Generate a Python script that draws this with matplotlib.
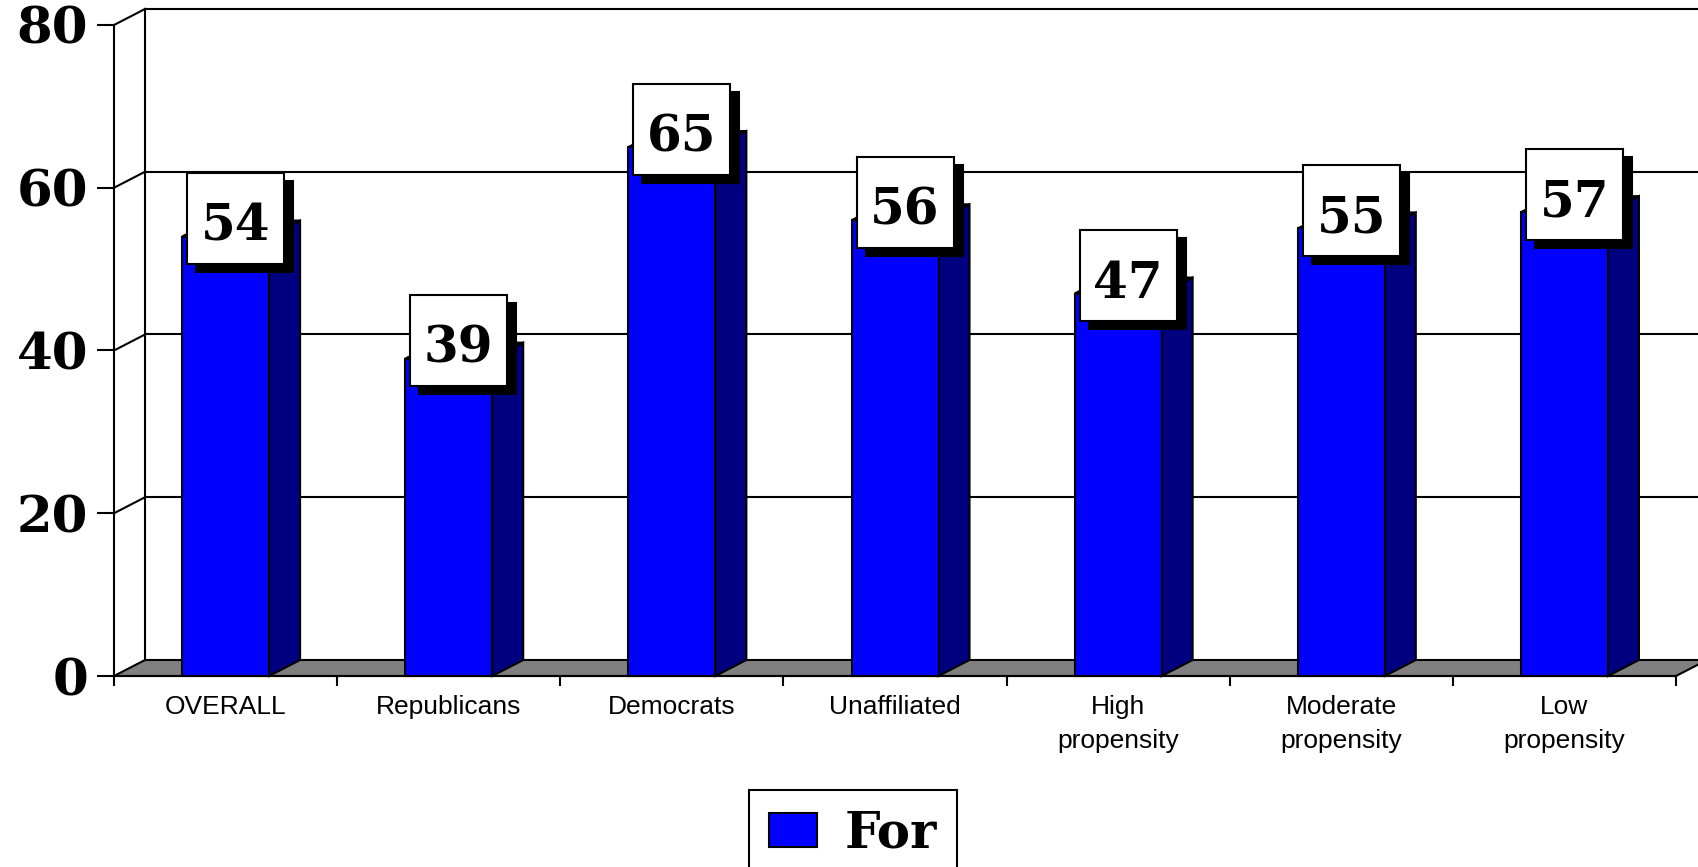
import matplotlib
matplotlib.use("Agg")
import matplotlib.pyplot as plt
from matplotlib.patches import Polygon, Rectangle, Patch
from matplotlib.transforms import ScaledTranslation

categories = ["OVERALL", "Republicans", "Democrats", "Unaffiliated",
              "High\npropensity", "Moderate\npropensity", "Low\npropensity"]
values = [54, 39, 65, 56, 47, 55, 57]
yticks = [0, 20, 40, 60, 80]
series_name = "For"

FRONT, SIDE, TOP, FLOOR = "#0000FF", "#000080", "#0000C8", "#808080"
SERIF = "DejaVu Serif"
SANS = "Liberation Sans"
BIG = 36

W, H, DPI = 16.98, 8.67, 100
fig = plt.figure(figsize=(W, H), dpi=DPI)
# plot area = front plane of the 3-D box, in pixels of the figure
L, R, B, T = 114, 1676, 191, 842
ax = fig.add_axes([L / 1698, B / 867, (R - L) / 1698, (T - B) / 867])
ax.set_xlim(-0.5, len(values) - 0.5)
ax.set_ylim(0, 80)
ax.patch.set_visible(False)

# depth of the box expressed in data units
px_x = (R - L) / len(values)
px_y = (T - B) / 80
dx, dy = 31 / px_x, 16 / px_y
hw = 43.5 / px_x
x0, x1 = -0.5, len(values) - 0.5

line_kw = dict(color="black", lw=1.5, clip_on=False)

# floor
ax.add_patch(Polygon([(x0, 0), (x1, 0), (x1 + dx, dy), (x0 + dx, dy)],
                     closed=True, fc=FLOOR, ec="black", lw=1.5, clip_on=False, zorder=1))

# back wall: left edge, gridlines and the slanted side-wall lines
ax.plot([x0 + dx, x0 + dx], [dy, 80 + dy], zorder=1, **line_kw)
for t in yticks[1:]:
    ax.plot([x0 + dx, x1 + dx], [t + dy, t + dy], zorder=1, **line_kw)
    ax.plot([x0, x0 + dx], [t, t + dy], zorder=1, **line_kw)

# bars: front face, side face and top
for i, v in enumerate(values):
    ax.add_patch(Polygon([(i + hw, 0), (i + hw + dx, dy), (i + hw + dx, v + dy), (i + hw, v)],
                         closed=True, fc=SIDE, ec="black", lw=1.5, clip_on=False, zorder=3))
    ax.add_patch(Polygon([(i - hw, v), (i + hw, v), (i + hw + dx, v + dy), (i - hw + dx, v + dy)],
                         closed=True, fc=TOP, ec="black", lw=1.5, clip_on=False, zorder=3))
    ax.add_patch(Rectangle((i - hw, 0), 2 * hw, v, fc=FRONT, ec="black", lw=1.5,
                           clip_on=False, zorder=4))

# value labels: white box (sized in inches) with a black drop shadow
bw, bh = 0.97, 0.91
cx, cy = 0.10, 0.18
for i, v in enumerate(values):
    tr = fig.dpi_scale_trans + ScaledTranslation(i, v, ax.transData)
    ax.add_patch(Rectangle((cx - bw / 2 + 0.09, cy - bh / 2 - 0.08), bw, bh, transform=tr,
                           fc="black", ec="black", lw=1.5, clip_on=False, zorder=6))
    ax.add_patch(Rectangle((cx - bw / 2, cy - bh / 2), bw, bh, transform=tr,
                           fc="white", ec="black", lw=1.5, clip_on=False, zorder=7))
    ax.text(cx, cy - 0.03, str(v), transform=tr, ha="center", va="center_baseline",
            fontsize=BIG, fontweight="bold", family=SERIF, zorder=8)

# axes
for s in ["top", "right"]:
    ax.spines[s].set_visible(False)
for s in ["left", "bottom"]:
    ax.spines[s].set_linewidth(1.5)
    ax.spines[s].set_zorder(2)
ax.set_yticks(yticks)
ax.set_yticklabels([str(t) for t in yticks], fontsize=BIG + 1, fontweight="bold", family=SERIF)
ax.tick_params(axis="y", length=12.2, width=1.5, pad=6.5, direction="out")
ax.set_xticks(range(len(values)))
ax.set_xticklabels(categories, fontsize=19, family=SANS, linespacing=1.5)
ax.tick_params(axis="x", which="major", length=0, pad=14)
ax.set_xticks([k - 0.5 for k in range(len(values) + 1)], minor=True)
ax.tick_params(axis="x", which="minor", length=7.2, width=1.5, direction="out")

leg = fig.legend(handles=[Patch(fc=FRONT, ec="black", lw=1.5, label=series_name)],
                 loc="center", bbox_to_anchor=(853 / 1698, 1 - 834 / 867),
                 prop=dict(family=SERIF, weight="bold", size=BIG),
                 handlelength=0.96, handleheight=0.68, handletextpad=0.55,
                 borderpad=0.4, fancybox=False, framealpha=1, edgecolor="black")
leg.get_frame().set_linewidth(1.5)

fig.savefig("out.png", dpi=DPI)
